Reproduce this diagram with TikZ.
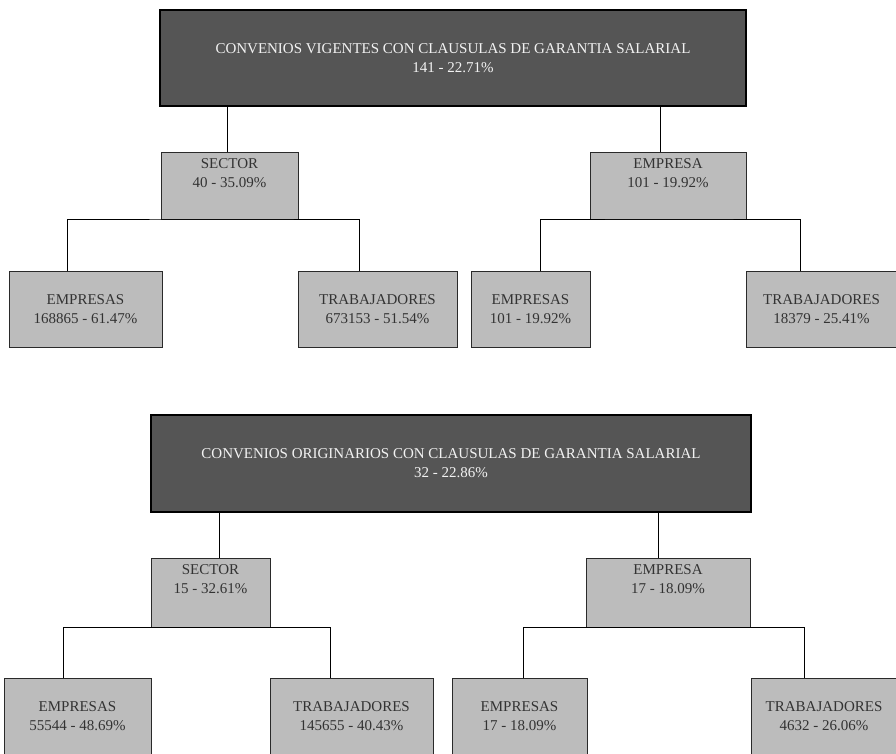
\documentclass[tikz,border=0pt]{standalone}
\usepackage{fontspec}
\setmainfont{Liberation Serif}
\definecolor{darkfill}{HTML}{555555}
\definecolor{lightfill}{HTML}{BCBCBC}
\definecolor{boxtext}{HTML}{333333}
\definecolor{titletext}{HTML}{F2F2F2}
\definecolor{boxline}{HTML}{2A2A2A}
\newcommand{\midtext}[3]{\parbox[c][#2][t]{#1}{\centering\vspace*{7pt}#3}}
\newcommand{\ctrtext}[3]{\parbox[c][#2][c]{#1}{\centering #3}}
\tikzset{
  basebox/.style={inner sep=0pt, outer sep=0pt, font=\fontsize{15}{19}\selectfont},
  darkbox/.style={basebox, draw=black, line width=1.2pt, fill=darkfill, text=titletext},
  lightbox/.style={basebox, draw=boxline, line width=1pt, fill=lightfill, text=boxtext},
  link/.style={draw=black, line width=0.9pt},
}
\begin{document}
\begin{tikzpicture}[x=1pt,y=-1pt]
\useasboundingbox (0,0) rectangle (896,753);
% ---------- group 1 ----------
\node[darkbox] (T1) at (453,58) {\ctrtext{586pt}{96pt}{CONVENIOS VIGENTES CON CLAUSULAS DE GARANTIA SALARIAL\\141 - 22.71\%}};
\node[lightbox] (S1) at (229.5,185.5) {\midtext{137pt}{67pt}{SECTOR\\40 - 35.09\%}};
\node[lightbox] (E1) at (668,185.5) {\midtext{156pt}{67pt}{EMPRESA\\101 - 19.92\%}};
\node[lightbox] (LE1) at (85.5,309) {\ctrtext{153pt}{76pt}{EMPRESAS\\168865 - 61.47\%}};
\node[lightbox] (LT1) at (377.5,309) {\ctrtext{159pt}{76pt}{TRABAJADORES\\673153 - 51.54\%}};
\node[lightbox] (RE1) at (530.5,309) {\ctrtext{119pt}{76pt}{EMPRESAS\\101 - 19.92\%}};
\node[lightbox] (RT1) at (821.5,309) {\ctrtext{151pt}{76pt}{TRABAJADORES\\18379 - 25.41\%}};
\coordinate (cS1) at ([xshift=-2.5pt]S1.north);
\coordinate (cE1) at ([xshift=-8pt]E1.north);
\coordinate (cLE1) at ([xshift=-18.5pt]LE1.north);
\coordinate (cLT1) at ([xshift=-18.5pt]LT1.north);
\coordinate (cRE1) at ([xshift=9.5pt]RE1.north);
\coordinate (cRT1) at ([xshift=-21.5pt]RT1.north);
\draw[link] (cS1) -- (cS1 |- T1.south);
\draw[link] (cE1) -- (cE1 |- T1.south);
\draw[link] (cLE1) |- (S1.south) -| (cLT1);
\draw[link] (cRE1) |- (E1.south) -| (cRT1);
% ---------- group 2 ----------
\node[darkbox] (T2) at (451,463.5) {\ctrtext{600pt}{97pt}{CONVENIOS ORIGINARIOS CON CLAUSULAS DE GARANTIA SALARIAL\\32 - 22.86\%}};
\node[lightbox] (S2) at (210.5,592.5) {\midtext{119pt}{69pt}{SECTOR\\15 - 32.61\%}};
\node[lightbox] (E2) at (668,592.5) {\midtext{164pt}{69pt}{EMPRESA\\17 - 18.09\%}};
\node[lightbox] (LE2) at (77.5,716.5) {\ctrtext{147pt}{77pt}{EMPRESAS\\55544 - 48.69\%}};
\node[lightbox] (LT2) at (351.5,716.5) {\ctrtext{163pt}{77pt}{TRABAJADORES\\145655 - 40.43\%}};
\node[lightbox] (RE2) at (519.5,716.5) {\ctrtext{135pt}{77pt}{EMPRESAS\\17 - 18.09\%}};
\node[lightbox] (RT2) at (824,716.5) {\ctrtext{146pt}{77pt}{TRABAJADORES\\4632 - 26.06\%}};
\coordinate (cS2) at ([xshift=8.5pt]S2.north);
\coordinate (cE2) at ([xshift=-10pt]E2.north);
\coordinate (cLE2) at ([xshift=-14.5pt]LE2.north);
\coordinate (cLT2) at ([xshift=-21.5pt]LT2.north);
\coordinate (cRE2) at ([xshift=3.5pt]RE2.north);
\coordinate (cRT2) at ([xshift=-20pt]RT2.north);
\draw[link] (cS2) -- (cS2 |- T2.south);
\draw[link] (cE2) -- (cE2 |- T2.south);
\draw[link] (cLE2) |- (S2.south) -| (cLT2);
\draw[link] (cRE2) |- (E2.south) -| (cRT2);
\end{tikzpicture}
\end{document}
